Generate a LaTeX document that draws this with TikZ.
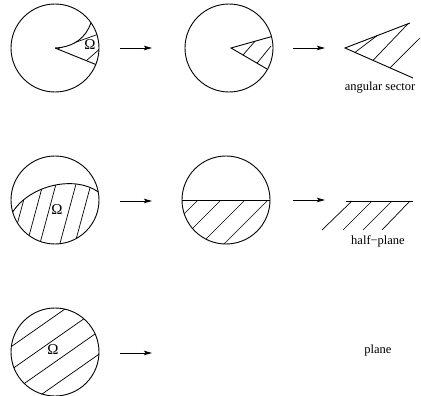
\documentclass[tikz,border=0pt]{standalone}
\usepackage{fontspec}
\setmainfont{Liberation Serif}
\usetikzlibrary{arrows.meta}

\begin{document}
\begin{tikzpicture}[x=1pt, y=-1pt,
        outline/.style={line width=0.9pt, black},
        hatch/.style={line width=0.7pt, black},
        map/.style={line width=0.9pt, -{Stealth[length=8pt, width=4.5pt, inset=1.5pt]}},
        caption/.style={font=\fontsize{12.5}{14}\selectfont, inner sep=0pt},
        omega/.style={font=\fontsize{15}{17}\selectfont, inner sep=0pt}
    ]
    \useasboundingbox (0,0) rectangle (421,396);

    % disk centres
    \coordinate (d1) at (55,48);
    \coordinate (d2) at (229,48);
    \coordinate (d4) at (55,200);
    \coordinate (d5) at (226,200);
    \coordinate (d7) at (55,352);

    % arrow ends
    \coordinate (a1s) at (120,48);  \coordinate (a1e) at (152,48);
    \coordinate (a2s) at (293,48);  \coordinate (a2e) at (325,48);
    \coordinate (a3s) at (120,201); \coordinate (a3e) at (152,201);
    \coordinate (a4s) at (293,200); \coordinate (a4e) at (325,200);
    \coordinate (a5s) at (120,353); \coordinate (a5e) at (152,353);

    % row 1: cusp domain -> sector in disk -> angular sector
    \draw[outline] (d1) circle[radius=44];
    \draw[outline] (d1) .. controls (75,47) and (86,37) .. (91,22.8);
    \draw[outline] (d1) -- (95.8,64.5);
    \begin{scope}
        \clip (d1) .. controls (75,47) and (86,37) .. (91,22.8)
            arc[start angle=-35, end angle=22, radius=44] -- cycle;
        \draw[hatch] (40,55) -- (110,30);
        \draw[hatch] (70,75) -- (110,40);
    \end{scope}
    \node[omega] (om1) at (90,45) {Ω};

    \draw[outline] (d2) circle[radius=44];
    \draw[outline] (267,69) -- (231,48) -- (271.5,36.6);
    \draw[hatch] (243,55) -- (255,41.2);
    \draw[hatch] (257,63.2) -- (271,46);

    \draw[outline] (413,78) -- (345,48) -- (410,23);
    \draw[hatch] (355,52.4) -- (377,35.7);
    \draw[hatch] (373,60.4) -- (408,23.8);
    \draw[hatch] (390,67.9) -- (420,38);
    \node[caption] (sector) at (380,88) {angular sector};

    \draw[map] (a1s) -- (a1e);
    \draw[map] (a2s) -- (a2e);

    % row 2: domain under a curve -> half disk -> half-plane
    \draw[outline] (d4) circle[radius=44];
    \draw[outline] (12.7,212) .. controls (30,185) and (75,175) .. (98.3,192);
    \begin{scope}
        \clip (12.7,212) .. controls (30,185) and (75,175) .. (98.3,192)
            arc[start angle=-10.5, end angle=164.2, radius=44] -- cycle;
        \foreach \x in {6,21,36,49,69,84,99}
            \draw[hatch] (\x-13.5,260) -- (\x+13.5,160);
    \end{scope}
    \node[omega] (om4) at (57,210) {Ω};

    \draw[outline] (d5) circle[radius=44];
    \draw[outline] (182,200) -- (270,200);
    \begin{scope}
        \clip (182,200) arc[start angle=180, end angle=0, radius=44] -- cycle;
        \foreach \x in {198,221,245,268}
            \draw[hatch] (\x,200) -- ++(-60,60);
    \end{scope}

    \draw[outline] (346,201) -- (413,201);
    \foreach \x/\y in {352/322, 372/343, 392/363, 410/382}
        \draw[hatch] (\x,201) -- (\y,230);
    \node[caption] (half) at (378,241) {half−plane};

    \draw[map] (a3s) -- (a3e);
    \draw[map] (a4s) -- (a4e);

    % row 3: strip-hatched disk -> plane
    \draw[outline] (d7) circle[radius=44];
    \begin{scope}
        \clip (d7) circle[radius=44];
        \foreach \b in {316,339,362,385}
            \draw[hatch] (0,\b+38.5) -- (110,\b-38.5);
    \end{scope}
    \node[omega] (om7) at (53,350) {Ω};

    \draw[map] (a5s) -- (a5e);
    \node[caption] (plane) at (378,350) {plane};
\end{tikzpicture}
\end{document}
